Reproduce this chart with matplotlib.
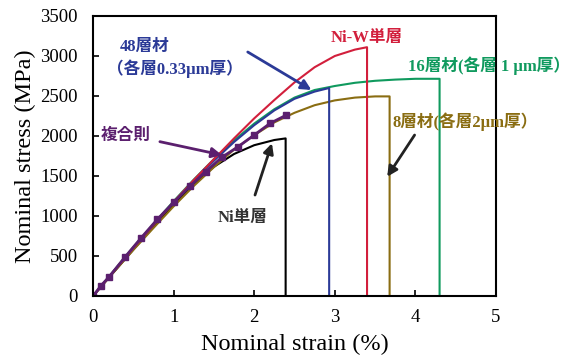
import matplotlib.pyplot as plt

plt.rcParams['font.family'] = ['Liberation Serif', 'Noto Sans CJK JP']

# Ni-W single layer
niw_x = [0, 0.25, 0.5, 0.75, 1.0, 1.25, 1.5, 1.75, 2.0, 2.25, 2.5, 2.75, 3.0, 3.25, 3.4, 3.4]
niw_y = [0, 300, 600, 890, 1175, 1450, 1710, 1970, 2220, 2450, 2670, 2860, 3000, 3080, 3110, 0]
# 48 layers (0.33 um each)
l48_x = [0, 0.25, 0.5, 0.75, 1.0, 1.25, 1.5, 1.75, 2.0, 2.25, 2.5, 2.75, 2.93, 2.93]
l48_y = [0, 300, 600, 890, 1170, 1435, 1690, 1925, 2135, 2320, 2465, 2555, 2600, 0]
# 16 layers (1 um each)
l16_x = [0, 0.25, 0.5, 0.75, 1.0, 1.25, 1.5, 1.75, 2.0, 2.25, 2.5, 2.75, 3.0, 3.25, 3.5, 3.75, 4.0, 4.3, 4.3]
l16_y = [0, 305, 610, 900, 1185, 1455, 1710, 1945, 2155, 2335, 2480, 2575, 2625, 2665, 2690, 2705, 2715, 2715, 0]
# 8 layers (2 um each)
l8_x = [0, 0.25, 0.5, 0.75, 1.0, 1.25, 1.5, 1.75, 2.0, 2.25, 2.5, 2.75, 3.0, 3.25, 3.5, 3.68, 3.68]
l8_y = [0, 290, 575, 850, 1120, 1375, 1610, 1830, 2010, 2170, 2290, 2385, 2445, 2480, 2495, 2495, 0]
# Ni single layer
ni_x = [0, 0.25, 0.5, 0.75, 1.0, 1.25, 1.5, 1.75, 2.0, 2.25, 2.39, 2.39]
ni_y = [0, 290, 580, 865, 1140, 1400, 1615, 1775, 1885, 1950, 1970, 0]
# rule of mixtures
rom_x = [0, 0.1, 0.2, 0.4, 0.6, 0.8, 1.0, 1.2, 1.4, 1.6, 1.8, 2.0, 2.2, 2.4]
rom_y = [0, 130, 240, 490, 730, 960, 1170, 1370, 1555, 1735, 1866, 2012, 2160, 2262]

c_red = '#d21f3c'
c_blue = '#2b3a97'
c_green = '#109a5e'
c_olive = '#8a6d12'
c_purple = '#5b1f6e'

fig = plt.figure(figsize=(5.74, 3.59), dpi=100)
ax = fig.add_axes([93/574, 1 - 296/359, 403/574, 280/359])

ax.plot(ni_x, ni_y, color='black', lw=1.5)
ax.plot(l8_x, l8_y, color=c_olive, lw=1.5)
ax.plot(l16_x, l16_y, color=c_green, lw=1.5)
ax.plot(l48_x, l48_y, color=c_blue, lw=1.5)
ax.plot(niw_x, niw_y, color=c_red, lw=1.5)
ax.plot(rom_x, rom_y, color=c_purple, lw=2, marker='s', ms=5)

ax.set_xlim(0, 5)
ax.set_ylim(0, 3500)
ax.set_xticks(range(0, 6))
ax.set_yticks(range(0, 3501, 500))
ax.tick_params(direction='in', length=4, width=1.2, labelsize=13.5)
ax.tick_params(axis='x', pad=9)
ax.tick_params(axis='y', pad=11)
for s in ax.spines.values():
    s.set_linewidth(1.5)
ax.set_xlabel('Nominal strain (%)', fontsize=17.5, labelpad=6)
ax.set_ylabel('Nominal stress (MPa)', fontsize=17.5, labelpad=3)

fs = 12
arr = dict(arrowstyle='-|>,head_length=0.6,head_width=0.3', lw=2, shrinkA=0, shrinkB=0)

ax.text(0.33, 3110, '48層材', color=c_blue, ha='left', va='center',
        fontsize=fs, fontweight='bold')
ax.text(0.17, 2845, '（各層0.33μm厚）', color=c_blue, ha='left', va='center',
        fontsize=fs, fontweight='bold')
ax.annotate('', xy=(2.71, 2575), xytext=(1.92, 3050),
            arrowprops=dict(color=c_blue, **arr))
ax.text(3.39, 3220, 'Ni-W単層', color=c_red, ha='center', va='center',
        fontsize=fs, fontweight='bold')
ax.text(3.91, 2875, '16層材(各層 1 μm厚）', color=c_green, ha='left', va='center',
        fontsize=fs, fontweight='bold', clip_on=False)
ax.text(3.72, 2175, '8層材(各層2μm厚）', color=c_olive, ha='left', va='center',
        fontsize=fs, fontweight='bold', clip_on=False)
ax.annotate('', xy=(3.65, 1491), xytext=(3.99, 2012),
            arrowprops=dict(color='#222222', **arr))
ax.text(0.09, 2000, '複合則', color=c_purple, ha='left', va='center',
        fontsize=fs, fontweight='bold')
ax.annotate('', xy=(1.6, 1762), xytext=(0.83, 1929),
            arrowprops=dict(color=c_purple, **arr))
ax.text(1.55, 975, 'Ni単層', color='#333333', ha='left', va='center',
        fontsize=fs, fontweight='bold')
ax.annotate('', xy=(2.22, 1909), xytext=(2.01, 1262),
            arrowprops=dict(color='#222222', **arr))

plt.savefig('out.png', dpi=100)
